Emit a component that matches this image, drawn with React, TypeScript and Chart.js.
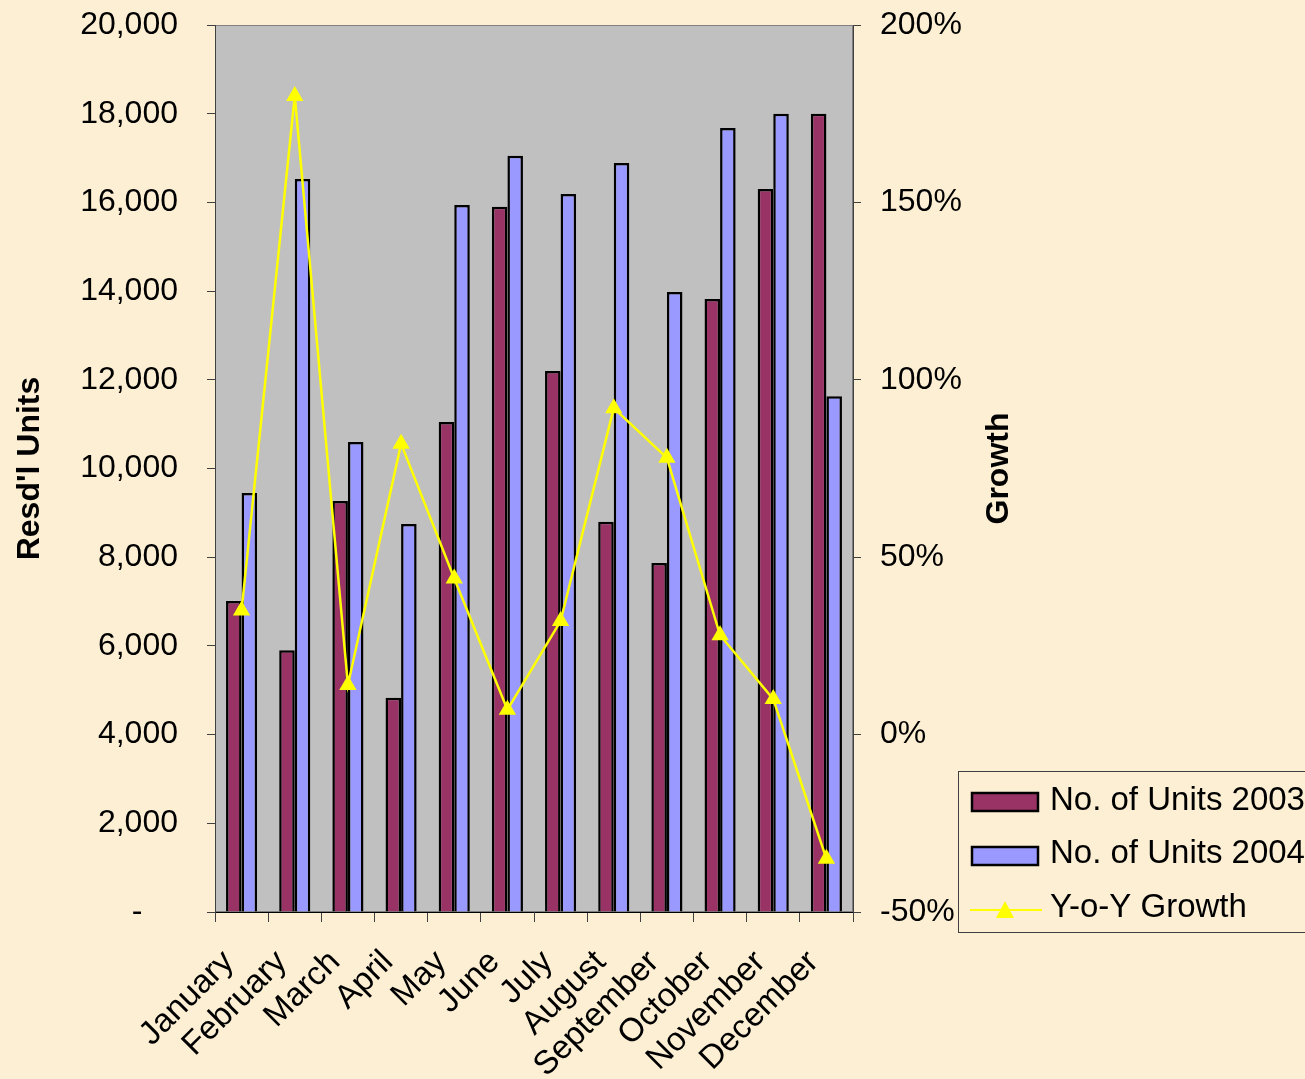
import React, { useEffect, useRef } from 'react';
import { Chart, registerables } from 'chart.js';

Chart.register(...registerables);

const months = ['January', 'February', 'March', 'April', 'May', 'June', 'July', 'August', 'September', 'October', 'November', 'December'];
const units2003 = [7010, 5900, 9270, 4830, 11050, 15900, 12200, 8800, 7870, 13820, 16300, 18000];
const units2004 = [9450, 16530, 10600, 8750, 15940, 17050, 16190, 16890, 13980, 17680, 18000, 11630];
const growth = [35, 180, 14, 82, 44, 7, 32, 92, 78, 28, 10, -35];
const seriesNames = ['No. of Units 2003', 'No. of Units 2004', 'Y-o-Y Growth'];

const FONT = '"Liberation Sans", Arial, Helvetica, sans-serif';
const BG = '#FCEFD4';
const PLOT_BG = '#C0C0C0';
const C2003 = '#993366';
const C2004 = '#9999FF';
const CLINE = '#FFFF00';

const decorPlugin = {
  id: 'decor',
  beforeDraw(chart: any) {
    const { ctx, chartArea } = chart;
    ctx.save();
    ctx.fillStyle = BG;
    ctx.fillRect(0, 0, chart.width, chart.height);
    ctx.fillStyle = PLOT_BG;
    ctx.fillRect(chartArea.left, chartArea.top, chartArea.right - chartArea.left, chartArea.bottom - chartArea.top);
    ctx.strokeStyle = '#808080';
    ctx.lineWidth = 1;
    ctx.strokeRect(chartArea.left + 0.5, chartArea.top + 0.5, chartArea.right - chartArea.left - 1, chartArea.bottom - chartArea.top - 1);
    ctx.restore();
  },
  afterDraw(chart: any) {
    const { ctx, chartArea } = chart;
    ctx.save();
    // right axis title
    ctx.font = `bold 32px ${FONT}`;
    ctx.fillStyle = '#000';
    ctx.textAlign = 'center';
    ctx.textBaseline = 'middle';
    ctx.translate(999, (chartArea.top + chartArea.bottom) / 2);
    ctx.rotate(-Math.PI / 2);
    ctx.fillText('Growth', 0, 0);
    ctx.restore();

    // legend
    ctx.save();
    ctx.strokeStyle = '#404040';
    ctx.lineWidth = 1;
    ctx.strokeRect(958.5, 771.5, 420, 161);
    const ds = chart.data.datasets;
    ctx.font = `33px ${FONT}`;
    ctx.textAlign = 'left';
    ctx.textBaseline = 'alphabetic';
    const rows = [
      { sy: 793, ty: 810 },
      { sy: 847, ty: 863 },
    ];
    [1, 2].forEach((di, i) => {
      const d = ds[di];
      ctx.fillStyle = d.backgroundColor;
      ctx.fillRect(972, rows[i].sy, 66, 18);
      ctx.strokeStyle = '#000';
      ctx.lineWidth = 2.5;
      ctx.strokeRect(972, rows[i].sy, 66, 18);
      ctx.fillStyle = '#000';
      ctx.fillText(d.label, 1050, rows[i].ty);
    });
    const ld = ds[0];
    ctx.strokeStyle = ld.borderColor;
    ctx.lineWidth = 2;
    ctx.beginPath();
    ctx.moveTo(970, 910);
    ctx.lineTo(1042, 910);
    ctx.stroke();
    ctx.fillStyle = ld.pointBackgroundColor;
    ctx.beginPath();
    ctx.moveTo(1005, 901);
    ctx.lineTo(1014, 918);
    ctx.lineTo(996, 918);
    ctx.closePath();
    ctx.fill();
    ctx.fillStyle = '#000';
    ctx.fillText(ld.label, 1050, 917);
    ctx.restore();
  },
};

function zeroPad(scale: any) {
  scale.paddingTop = 0;
  scale.paddingBottom = 0;
  scale.paddingLeft = 0;
  scale.paddingRight = 0;
}

export default function App() {
  const ref = useRef<HTMLCanvasElement | null>(null);
  useEffect(() => {
    if (!ref.current) return;
    const chart = new Chart(ref.current, {
      type: 'bar',
      data: {
        labels: months,
        datasets: [
          {
            type: 'line',
            label: seriesNames[2],
            data: growth,
            yAxisID: 'y1',
            borderColor: CLINE,
            backgroundColor: CLINE,
            pointBackgroundColor: CLINE,
            pointBorderColor: CLINE,
            pointStyle: 'triangle',
            pointRadius: 10,
            pointBorderWidth: 0,
            borderWidth: 2.5,
            tension: 0,
            fill: false,
            order: 0,
          } as any,
          {
            type: 'bar',
            label: seriesNames[0],
            data: units2003,
            yAxisID: 'y',
            backgroundColor: C2003,
            borderColor: '#000',
            borderWidth: 2.5,
            borderSkipped: 'bottom',
            categoryPercentage: 0.585,
            barPercentage: 1,
            order: 1,
          },
          {
            type: 'bar',
            label: seriesNames[1],
            data: units2004,
            yAxisID: 'y',
            backgroundColor: C2004,
            borderColor: '#000',
            borderWidth: 2.5,
            borderSkipped: 'bottom',
            categoryPercentage: 0.585,
            barPercentage: 1,
            order: 1,
          },
        ],
      },
      options: {
        responsive: false,
        animation: false,
        devicePixelRatio: 1,
        layout: { padding: { top: 25, left: 0, right: 0, bottom: 0 } },
        plugins: {
          legend: { display: false },
          tooltip: { enabled: false },
          title: { display: false },
        },
        scales: {
          x: {
            offset: true,
            grid: {
              offset: true,
              drawOnChartArea: false,
              drawTicks: true,
              tickLength: 10,
              color: '#404040',
            },
            border: { display: true, color: '#000', width: 1 },
            ticks: {
              color: '#000',
              font: { family: FONT, size: 33 },
              maxRotation: 45,
              minRotation: 45,
              padding: 8,
              autoSkip: false,
              callback: (_v: any, i: number) => months[i] + '  ',
            },
            afterFit(scale: any) {
              scale.height = 1079 - 912;
              zeroPad(scale);
            },
          },
          y: {
            position: 'left',
            min: 0,
            max: 20000,
            grid: { drawOnChartArea: false, drawTicks: true, tickLength: 8, color: '#404040' },
            border: { display: true, color: '#404040', width: 1 },
            ticks: {
              stepSize: 2000,
              color: '#000',
              font: { family: FONT, size: 32 },
              padding: 29,
              callback: (v: any) => (Number(v) === 0 ? '-    ' : Number(v).toLocaleString('en-US')),
            },
            title: {
              display: true,
              text: "Resd'l Units",
              color: '#000',
              font: { family: FONT, size: 32, weight: 'bold' },
              padding: { top: 11, bottom: 0 },
            },
            afterFit(scale: any) {
              scale.width = 215;
              zeroPad(scale);
            },
          },
          y1: {
            position: 'right',
            min: -50,
            max: 200,
            grid: { drawOnChartArea: false, drawTicks: true, tickLength: 8, color: '#404040' },
            border: { display: true, color: '#404040', width: 1 },
            ticks: {
              stepSize: 50,
              color: '#000',
              font: { family: FONT, size: 32 },
              padding: 19,
              callback: (v: any) => `${v}%`,
            },
            afterFit(scale: any) {
              scale.width = 1305 - 853;
              zeroPad(scale);
            },
          },
        },
      },
      plugins: [decorPlugin],
    });
    return () => chart.destroy();
  }, []);

  return (
    <div style={{ position: 'absolute', left: 0, top: 0, width: 1305, height: 1079, background: BG, overflow: 'hidden' }}>
      <canvas ref={ref} width={1305} height={1079} style={{ display: 'block', width: 1305, height: 1079 }} />
    </div>
  );
}
